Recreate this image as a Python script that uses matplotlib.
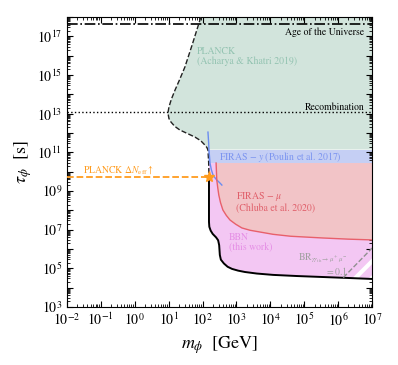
import numpy as np
import matplotlib.pyplot as plt
from matplotlib.ticker import FixedLocator, LogLocator, FuncFormatter, NullFormatter

plt.rcParams["font.family"] = "serif"
plt.rcParams["font.serif"] = ["STIXGeneral"]
plt.rcParams["mathtext.fontset"] = "stix"
plt.rcParams["hatch.linewidth"] = 3.0

# reference times [s]
t_universe = 4.35e17
t_recomb = 1.2e13
t_neff = 10**9.73
m_star = 10**2.19

# PLANCK (Acharya & Khatri 2019) bound, log10 values
planck_logm = [1.95, 1.70, 1.48, 1.32, 1.19, 1.08, 1.01, 0.98, 1.01, 1.07, 1.18, 1.33, 1.55, 1.78, 1.95, 2.07, 2.13, 2.16, 2.18, 2.19]
planck_logtau = [18.0, 16.6, 15.42, 14.75, 14.23, 13.75, 13.35, 13.04, 12.75, 12.57, 12.35, 12.16, 11.98, 11.79, 11.6, 11.38, 11.25, 11.12, 10.5, 9.73]

# FIRAS - y (Poulin et al. 2017)
firas_y_band = (10**10.45, 10**11.15)
firas_y_logm = [2.16, 2.18, 2.19, 2.22, 2.26, 2.31, 2.36, 2.42, 2.50, 2.57]
firas_y_logtau = [12.05, 11.5, 11.12, 10.45, 10.1, 9.83, 9.70, 9.57, 9.44, 9.31]

# FIRAS - mu (Chluba et al. 2020)
firas_mu_logm = [2.40, 2.41, 2.42, 2.45, 2.48, 2.53, 2.60, 2.70, 2.81, 2.98, 3.16, 3.40, 3.69, 4.08, 4.60, 5.55, 6.30, 7.0]
firas_mu_logtau = [10.45, 10.0, 9.57, 9.15, 8.79, 8.40, 8.02, 7.74, 7.50, 7.28, 7.09, 6.97, 6.88, 6.76, 6.66, 6.57, 6.51, 6.47]

# BBN (this work)
bbn_logm = [2.19, 2.19, 2.20, 2.24, 2.30, 2.40, 2.46, 2.49, 2.51, 2.54, 2.63, 2.74, 2.87, 3.05, 3.25, 3.60, 4.08, 4.80, 5.55, 6.30, 7.0]
bbn_logtau = [9.73, 7.40, 7.15, 6.95, 6.78, 6.60, 6.45, 6.20, 5.69, 5.45, 5.25, 5.08, 4.97, 4.88, 4.81, 4.73, 4.66, 4.60, 4.55, 4.50, 4.45]

# BR(gamma gamma_th -> mu+ mu-) = 0.1
br_logm = [6.15, 7.0]
br_logtau = [4.52, 6.05]

green_fill = "#d2e4dc"
blue_fill = "#c5cff4"
red_fill = "#f2c4c7"
pink_fill = "#f3c7f3"
orange = "#ff9c1f"

fig = plt.figure(figsize=(3.98, 3.65), dpi=100)
ax = fig.add_axes([0.168, 0.159, 0.767, 0.794])

pm = 10 ** np.array(planck_logm)
pt = 10 ** np.array(planck_logtau)
ym = 10 ** np.array(firas_y_logm)
yt = 10 ** np.array(firas_y_logtau)
mm = 10 ** np.array(firas_mu_logm)
mt = 10 ** np.array(firas_mu_logtau)
bm = 10 ** np.array(bbn_logm)
bt = 10 ** np.array(bbn_logtau)
rm = 10 ** np.array(br_logm)
rt = 10 ** np.array(br_logtau)

xr = 1e8
# green region
k = np.searchsorted(-pt, -firas_y_band[1])
gx = [pm[0]] + list(pm[:k]) + [pm[k - 1], xr, xr]
gy = [1e19] + list(pt[:k]) + [firas_y_band[1], firas_y_band[1], 1e19]
ax.fill(gx, gy, color=green_fill, lw=0, zorder=1)

# blue band
ax.fill([10**2.17, xr, xr, 10**2.17], [firas_y_band[0], firas_y_band[0], firas_y_band[1], firas_y_band[1]],
        color=blue_fill, lw=0, zorder=1)

# pink BBN region
ax.fill(list(bm) + [xr, xr, bm[0]], list(bt) + [bt[-1], firas_y_band[0], firas_y_band[0]],
        color=pink_fill, lw=0, zorder=1)

# red FIRAS-mu region
ax.fill(list(mm) + [xr, xr], list(mt) + [mt[-1], mt[0]], color=red_fill, lw=0, zorder=2)

# hatched BR region (white stripes on pink)
sel = bm[::-1] >= rm[0]
hx = list(rm) + [bm[-1]] + list(bm[::-1][sel][1:])
hy = list(rt) + [bt[-1]] + list(bt[::-1][sel][1:])
ax.fill(hx, hy, facecolor=pink_fill, edgecolor="white", hatch="//", lw=0, zorder=2)

# lines
ax.axhline(t_universe, color="black", ls="-.", lw=1.2, zorder=4)
ax.axhline(t_recomb, color="black", ls=":", lw=1.0, zorder=4)
ax.plot(pm, pt, color="#222222", ls="--", lw=1.0, zorder=4)
ax.plot(ym, yt, color="#6b8cf0", lw=1.0, zorder=4)
ax.plot(mm, mt, color="#e8606b", lw=1.0, zorder=4)
ax.plot(bm, bt, color="black", lw=1.4, zorder=4)
ax.plot(rm, rt, color="#909090", ls="--", lw=1.0, zorder=4)
ax.plot([1e-2, m_star], [t_neff, t_neff], color=orange, ls="--", lw=1.3, zorder=4)
ax.plot([m_star], [t_neff], marker="*", color=orange, ms=8, zorder=5)

# texts
ax.text(0.974, 0.948, "Age of the Universe", transform=ax.transAxes, ha="right", va="center", fontsize=7)
ax.text(0.974, 0.69, "Recombination", transform=ax.transAxes, ha="right", va="center", fontsize=7)
ax.text(0.426, 0.90, "PLANCK\n(Acharya & Khatri 2019)", transform=ax.transAxes, ha="left", va="top",
        fontsize=7, color="#93c3b1", linespacing=1.1)
ax.text(0.498, 0.517, r"FIRAS $-\ y$ (Poulin et al. 2017)", transform=ax.transAxes, ha="left", va="center",
        fontsize=7, color="#7d95f0")
ax.text(0.554, 0.403, "FIRAS $-\\ \\mu$\n(Chluba et al. 2020)", transform=ax.transAxes, ha="left", va="top",
        fontsize=7, color="#e0606b", linespacing=1.1)
ax.text(0.531, 0.259, "BBN\n(this work)", transform=ax.transAxes, ha="left", va="top",
        fontsize=7, color="#e58ee5", linespacing=1.1)
ax.text(0.921, 0.19, "BR$_{\\gamma\\gamma_{\\rm th}\\to\\mu^+\\mu^-}$\n$= 0.1$", transform=ax.transAxes,
        ha="right", va="top", fontsize=7, color="#a0a0a0", multialignment="right", linespacing=1.0)
ax.text(0.052, 0.472, r"PLANCK $\Delta N_{\rm eff}\uparrow$", transform=ax.transAxes, ha="left", va="center",
        fontsize=7, color=orange)

ax.set_xscale("log")
ax.set_yscale("log")
ax.set_xlim(1e-2, 1e7)
ax.set_ylim(1e3, 1e18)

ax.xaxis.set_major_locator(FixedLocator([10.0**k for k in range(-2, 8)]))
ax.xaxis.set_minor_locator(LogLocator(base=10, subs=np.arange(2, 10), numticks=30))
ax.xaxis.set_minor_formatter(NullFormatter())
ax.yaxis.set_major_locator(FixedLocator([10.0**k for k in range(3, 19)]))
ax.yaxis.set_minor_locator(LogLocator(base=10, subs=np.arange(2, 10), numticks=30))
ax.yaxis.set_minor_formatter(NullFormatter())
ax.yaxis.set_major_formatter(FuncFormatter(
    lambda v, p: "$10^{%d}$" % round(np.log10(v)) if round(np.log10(v)) % 2 == 1 else ""))
ax.xaxis.set_major_formatter(FuncFormatter(lambda v, p: "$10^{%d}$" % round(np.log10(v))))
ax.tick_params(which="both", direction="in", top=True, right=True, labelsize=10)
ax.tick_params(which="major", length=4, width=0.8)
ax.tick_params(which="minor", length=2, width=0.6)

ax.set_xlabel(r"$m_\phi\ \ [\mathrm{GeV}]$", fontsize=13)
ax.set_ylabel(r"$\tau_\phi\ \ [\mathrm{s}]$", fontsize=13, labelpad=2)

fig.savefig("out.png", dpi=100)
